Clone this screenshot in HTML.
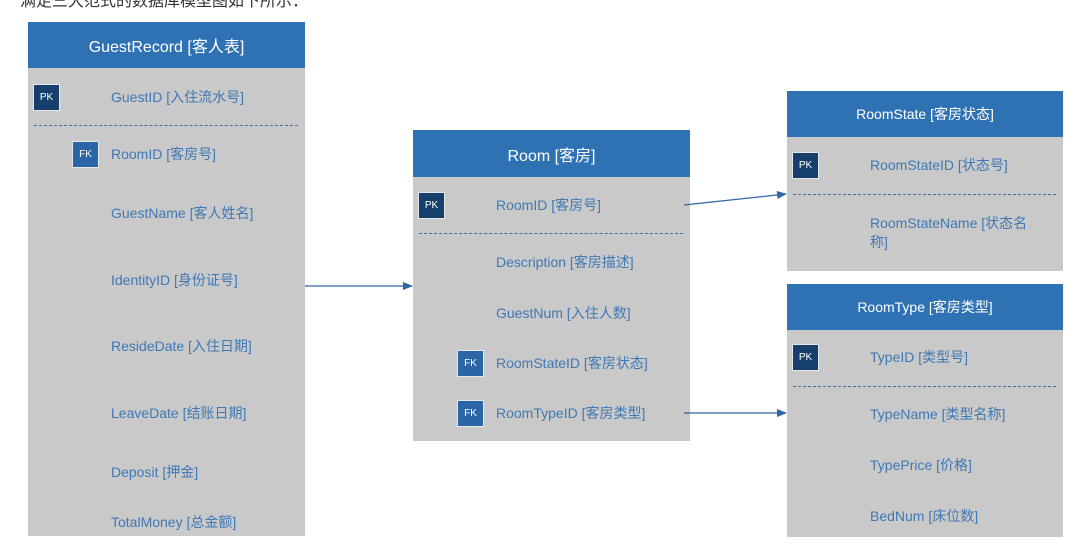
<!DOCTYPE html>
<html><head><meta charset="utf-8"><style>
body{margin:0;width:1083px;height:548px;background:#fff;position:relative;overflow:hidden;font-family:"Liberation Sans","Noto Sans CJK SC",sans-serif}
.a{position:absolute}
.hd{position:absolute;background:#2f72b3;color:#fff;font-size:16px;display:flex;align-items:center;justify-content:center}
.bd{position:absolute;background:#c9c9c9}
.t{position:absolute;color:#3f78b4;font-size:14px;line-height:18px;white-space:nowrap}
.pk,.fk{position:absolute;width:25px;height:25px;color:#fff;font-size:10px;display:flex;align-items:center;justify-content:center;box-shadow:0 0 0 1px #e8e8e8}
.pk{background:#163f6e}.fk{background:#2a66a6}
.dl{position:absolute;border-top:1px dashed #3f6fa6;height:0}
</style></head><body>
<div class="a" style="left:20px;top:-8px;font-size:16px;color:#333;line-height:20px">满足三大范式的数据库模型图如下所示：</div>

<!-- GuestRecord -->
<div class="hd" style="left:28px;top:22px;width:277px;height:46px">GuestRecord [客人表]</div>
<div class="bd" style="left:28px;top:68px;width:277px;height:468px"></div>
<div class="pk" style="left:34px;top:85px">PK</div>
<div class="t" style="left:111px;top:88px">GuestID [入住流水号]</div>
<div class="dl" style="left:34px;top:125px;width:264px"></div>
<div class="fk" style="left:73px;top:142px">FK</div>
<div class="t" style="left:111px;top:145px">RoomID [客房号]</div>
<div class="t" style="left:111px;top:204px">GuestName [客人姓名]</div>
<div class="t" style="left:111px;top:271px">IdentityID [身份证号]</div>
<div class="t" style="left:111px;top:337px">ResideDate [入住日期]</div>
<div class="t" style="left:111px;top:404px">LeaveDate [结账日期]</div>
<div class="t" style="left:111px;top:463px">Deposit [押金]</div>
<div class="t" style="left:111px;top:513px">TotalMoney [总金额]</div>

<!-- Room -->
<div class="hd" style="left:413px;top:130px;width:277px;height:47px">Room [客房]</div>
<div class="bd" style="left:413px;top:177px;width:277px;height:264px"></div>
<div class="pk" style="left:419px;top:193px">PK</div>
<div class="t" style="left:496px;top:196px">RoomID [客房号]</div>
<div class="dl" style="left:419px;top:233px;width:264px"></div>
<div class="t" style="left:496px;top:253px">Description [客房描述]</div>
<div class="t" style="left:496px;top:304px">GuestNum [入住人数]</div>
<div class="fk" style="left:458px;top:351px">FK</div>
<div class="t" style="left:496px;top:354px">RoomStateID [客房状态]</div>
<div class="fk" style="left:458px;top:401px">FK</div>
<div class="t" style="left:496px;top:404px">RoomTypeID [客房类型]</div>

<!-- RoomState -->
<div class="hd" style="left:787px;top:91px;width:276px;height:46px;font-size:14px">RoomState [客房状态]</div>
<div class="bd" style="left:787px;top:137px;width:276px;height:134px"></div>
<div class="pk" style="left:793px;top:153px">PK</div>
<div class="t" style="left:870px;top:156px">RoomStateID [状态号]</div>
<div class="dl" style="left:793px;top:194px;width:263px"></div>
<div class="t" style="left:870px;top:214px;line-height:19px">RoomStateName [状态名<br>称]</div>

<!-- RoomType -->
<div class="hd" style="left:787px;top:284px;width:276px;height:46px;font-size:14px">RoomType [客房类型]</div>
<div class="bd" style="left:787px;top:330px;width:276px;height:207px"></div>
<div class="pk" style="left:793px;top:345px">PK</div>
<div class="t" style="left:870px;top:348px">TypeID [类型号]</div>
<div class="dl" style="left:793px;top:386px;width:263px"></div>
<div class="t" style="left:870px;top:405px">TypeName [类型名称]</div>
<div class="t" style="left:870px;top:456px">TypePrice [价格]</div>
<div class="t" style="left:870px;top:507px">BedNum [床位数]</div>

<svg class="a" style="left:0;top:0" width="1083" height="548">
<defs><marker id="m" markerWidth="10" markerHeight="8" refX="9" refY="4" orient="auto" markerUnits="userSpaceOnUse"><path d="M0,0 L10,4 L0,8z" fill="#2f66a3"/></marker></defs>
<g stroke="#2f66a3" stroke-width="1.2" fill="none">
<line x1="305" y1="286" x2="412" y2="286" marker-end="url(#m)"/>
<line x1="684" y1="205" x2="786" y2="194" marker-end="url(#m)"/>
<line x1="684" y1="413" x2="786" y2="413" marker-end="url(#m)"/>
</g></svg>
</body></html>
